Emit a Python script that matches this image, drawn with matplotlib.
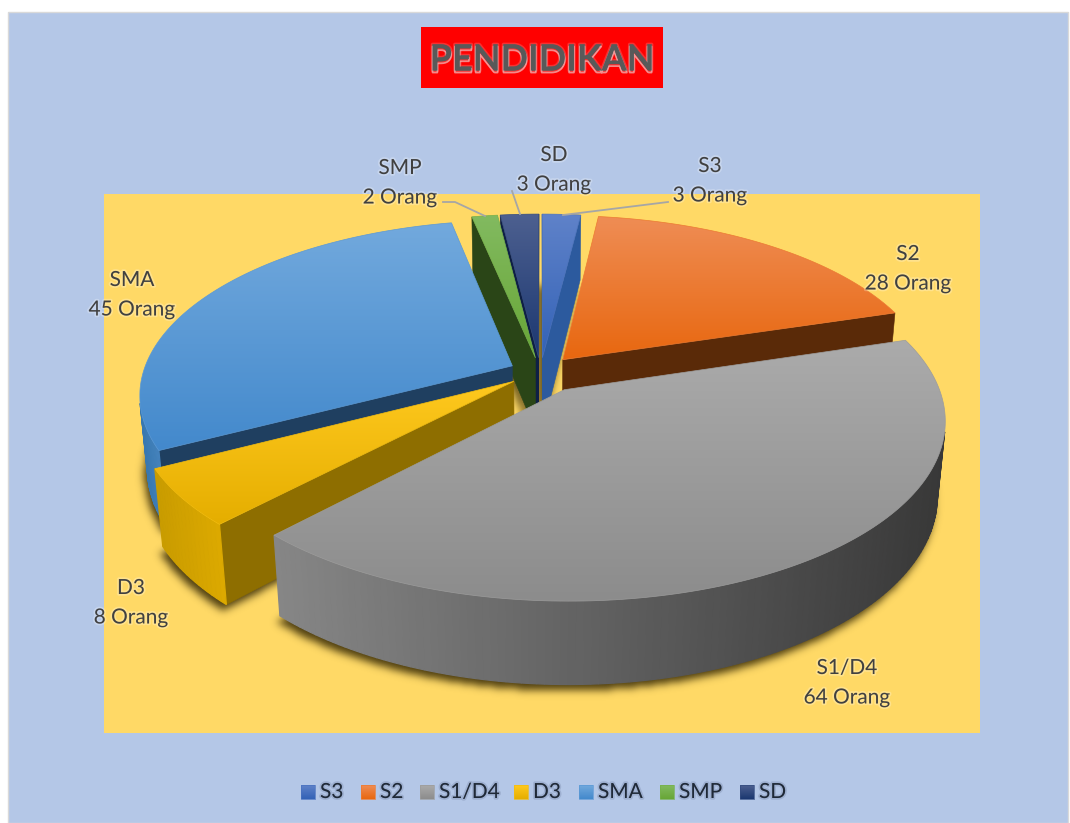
#!/usr/bin/env python3

import numpy as np
import matplotlib
matplotlib.use("Agg")
import matplotlib.pyplot as plt
import matplotlib.patheffects as pe
from matplotlib.colors import to_rgb, LinearSegmentedColormap
from matplotlib.patches import Polygon, Rectangle
from matplotlib.path import Path

plt.rcParams['font.family'] = ['Lato', 'DejaVu Sans']

title = "PENDIDIKAN"
categories = ["S3", "S2", "S1/D4", "D3", "SMA", "SMP", "SD"]
values = [3, 28, 64, 8, 45, 2, 3]
unit = "Orang"

# top gradient (upper, lower), radial wall, arc wall (left, right)
top_colors = [("#5f82c9", "#3362b6"), ("#ef8d55", "#e8670f"), ("#ababab", "#8c8c8c"),
              ("#ffc91f", "#e5ae00"), ("#72a9dd", "#4389cc"), ("#82ba60", "#68a636"),
              ("#4d6090", "#1b3770")]
wall_colors = ["#2c5a9e", "#5a2a08", "#555555", "#8e6e00", "#1f3f60", "#2a4517", "#0e1f45"]
arc_colors = [("#3a6ab0", "#3a6ab0"), ("#8a4210", "#8a4210"), ("#868686", "#383838"),
              ("#c99c00", "#dca900"), ("#3878b0", "#4482bc"), ("#3f6a20", "#3f6a20"),
              ("#14305f", "#14305f")]
explode = [0.085, 0.095, 0.12, 0.09, 0.085, 0.085, 0.085]
draw_order = [6, 5, 0, 1, 4, 3, 2]

label_pos = [(710, 166), (908, 254), (847, 668), (131, 588), (132, 280), (400, 168), (554, 155)]
legend_x = [301, 361, 420, 514, 579, 660, 740]

# camera for the tilted pie
cx, cy = 540.5, 372
elev = np.radians(27.6)
D = 5.5
F = 2030
thick = 0.228


def project(X, Y, Z=0.0):
    u = X
    v = Y * np.sin(elev) + Z * np.cos(elev)
    w = D + Y * np.cos(elev) - Z * np.sin(elev)
    return cx + F * u / w, cy - F * v / w


def area(q):
    x, y = np.array(q).T
    return 0.5 * np.sum(x * np.roll(y, -1) - np.roll(x, -1) * y)


def gradient_poly(ax, pts, c1, c2, zorder=3):
    pts = np.array(pts)
    cmap = LinearSegmentedColormap.from_list("g", [c1, c2])
    x0, x1 = pts[:, 0].min(), pts[:, 0].max()
    y0, y1 = pts[:, 1].min(), pts[:, 1].max()
    im = ax.imshow(np.linspace(0, 1, 256).reshape(-1, 1), cmap=cmap, aspect="auto",
                   extent=(x0, x1, y1, y0), zorder=zorder, interpolation="bilinear")
    clip = Polygon(pts, closed=True, transform=ax.transData)
    im.set_clip_path(clip)
    mid = tuple((np.array(to_rgb(c1)) + np.array(to_rgb(c2))) / 2)
    ax.add_patch(Polygon(pts, closed=True, fill=False, edgecolor=mid, lw=0.5, zorder=zorder))


def blurred_shadow(ax, polys, sigma=4.0, strength=0.85, zorder=2):
    # mask of all slice bottoms on a 2px grid, gaussian blur through the fft
    xs, ys = np.arange(0, 1070, 2), np.arange(0, 824, 2)
    gx, gy = np.meshgrid(xs, ys)
    grid = np.column_stack([gx.ravel(), gy.ravel()])
    mask = np.zeros(gx.shape)
    for p in polys:
        mask[Path(p).contains_points(grid).reshape(gx.shape)] = 1
    fy = np.fft.fftfreq(mask.shape[0], d=2)[:, None]
    fx = np.fft.rfftfreq(mask.shape[1], d=2)[None, :]
    kernel = np.exp(-2 * (np.pi * sigma) ** 2 * (fx ** 2 + fy ** 2))
    mask = np.clip(np.fft.irfft2(np.fft.rfft2(mask) * kernel, s=mask.shape), 0, 1)
    rgba = np.zeros(mask.shape + (4,))
    rgba[..., :3] = to_rgb("#2e2200")
    rgba[..., 3] = mask * strength
    ax.imshow(rgba, extent=(0, 1070, 824, 0), aspect="auto", zorder=zorder, interpolation="bilinear")


fig = plt.figure(figsize=(10.7, 8.23), dpi=100, facecolor="white")
ax = fig.add_axes([0, 0, 1, 1])
ax.axis("off")

ax.add_patch(Rectangle((8, 12), 1060, 811, facecolor="#b4c7e7", edgecolor="#d9d9d9", lw=1, zorder=0))
ax.add_patch(Rectangle((104, 194), 876, 539, facecolor="#ffd966", edgecolor="none", zorder=1))

# title
ax.add_patch(Rectangle((421, 27), 242, 61, facecolor="#ff0000", edgecolor="none", zorder=2.5))
ax.text(542, 60, title, ha="center", va="center", fontsize=26, fontweight="bold", color="#595959", zorder=5,
        path_effects=[pe.withStroke(linewidth=2.5, foreground="#e8a0a0", alpha=0.3),
                      pe.SimpleLineShadow(offset=(0, -1.5), shadow_color="#f0d0d0", alpha=0.65, linewidth=1.2),
                      pe.Normal()])

total = sum(values)
edges = np.concatenate([[0], np.cumsum(values)]) / total * 2 * np.pi
shadow_polys = []

for i in draw_order:
    a0, a1 = edges[i], edges[i + 1]
    mid = (a0 + a1) / 2
    ox, oy = explode[i] * np.sin(mid), explode[i] * np.cos(mid)
    th = np.linspace(a0, a1, max(4, int(np.degrees(a1 - a0))))
    X = ox + np.sin(th)
    Y = oy + np.cos(th)

    top = [project(ox, oy)] + [project(a, b) for a, b in zip(X, Y)]
    bottom = [project(ox, oy, -thick)] + [project(a, b, -thick) for a, b in zip(X, Y)]
    shadow_polys.append(np.array(bottom + [bottom[0]]) + np.array([-4, 5]))

    # radial walls
    walls = [[top[0], top[1], bottom[1], bottom[0]], [top[-1], top[0], bottom[0], bottom[-1]]]
    for q in walls:
        if area(q) < 0:
            ax.add_patch(Polygon(q, closed=True, facecolor=wall_colors[i], edgecolor=wall_colors[i],
                                 lw=0.4, zorder=3))

    # outer wall, cut into strips so the shade can change along it
    strips = []
    for k in range(1, len(top) - 1):
        q = [top[k], top[k + 1], bottom[k + 1], bottom[k]]
        if area(q) < 0:
            strips.append(q)
    if strips:
        xs = np.array([np.mean([p[0] for p in q]) for q in strips])
        span = max(xs.max() - xs.min(), 1)
        left, right = np.array(to_rgb(arc_colors[i][0])), np.array(to_rgb(arc_colors[i][1]))
        for q, x in zip(strips, xs):
            t = (x - xs.min()) / span
            col = tuple(left + (right - left) * t)
            ax.add_patch(Polygon(q, closed=True, facecolor=col, edgecolor=col, lw=0.9, zorder=3))

    gradient_poly(ax, top, top_colors[i][0], top_colors[i][1])
    # draw order inside one zorder follows insertion, so the faces stack back to front

blurred_shadow(ax, shadow_polys)

# leader lines
ax.plot([443, 455, 485], [202, 202, 216], color="#a6a6a6", lw=1.3, zorder=4)
ax.plot([512, 520], [191, 214], color="#a6a6a6", lw=1.3, zorder=4)
ax.plot([563, 668], [215, 202], color="#a6a6a6", lw=1.3, zorder=4)

# data labels
halo = [pe.withStroke(linewidth=2.5, foreground="#ffffff", alpha=0.25)]
for cat, val, (lx, ly) in zip(categories, values, label_pos):
    ax.text(lx, ly, cat, ha="center", va="center", fontsize=15, color="#404040", zorder=6, path_effects=halo)
    ax.text(lx, ly + 29.5, f"{val} {unit}", ha="center", va="center", fontsize=15, color="#404040", zorder=6,
            path_effects=halo)

# legend
halo2 = [pe.withStroke(linewidth=2.5, foreground="#7f8fb0", alpha=0.4)]
for x, cat, cols in zip(legend_x, categories, top_colors):
    gradient_poly(ax, [(x, 785), (x + 14, 785), (x + 14, 799), (x, 799)], cols[0], cols[1], zorder=4)
    ax.text(x + 19, 792, cat, ha="left", va="center", fontsize=15, color="#1f2937", zorder=6, path_effects=halo2)

ax.set_xlim(0, 1070)
ax.set_ylim(823, 0)
fig.savefig("out.png", dpi=100)
